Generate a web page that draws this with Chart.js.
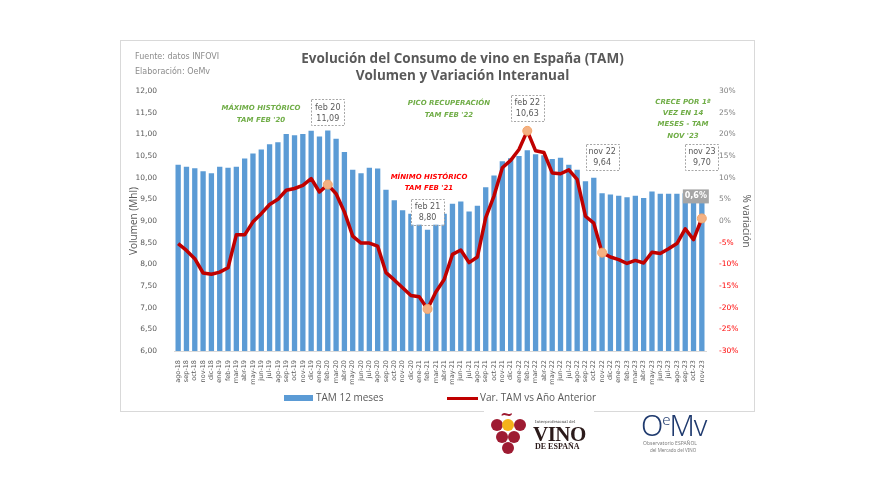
<!DOCTYPE html>
<html>
<head>
<meta charset="utf-8">
<script src="https://cdn.jsdelivr.net/npm/chart.js@4"></script>
<style>
  body { margin: 0; background: #fff; }
  #wrap { position: relative; width: 875px; height: 500px; overflow: hidden; }
  #c { position: absolute; left: 0; top: 0; }
  .abs { position: absolute; white-space: nowrap; }
  #frame { left: 120px; top: 40px; width: 633px; height: 370px; border: 1px solid #d9d9d9; }
  .title { left: 0; width: 925px; text-align: center; font: bold 13.5px "Open Sans", sans-serif; color: #595959; }
  .src { left: 135px; font: 8px "DejaVu Sans", sans-serif; color: #8c8c8c; }
  .leg { font: 10px "Open Sans", sans-serif; color: #595959; }
  .grape { position: absolute; width: 12px; height: 12px; border-radius: 50%; background: #9e1b32; }
</style>
</head>
<body>
<div id="wrap">
  <div id="frame" class="abs"></div>
  <canvas id="c" width="875" height="500"></canvas>
  <div class="abs title" style="top:49px">Evolución del Consumo de vino en España (TAM)</div>
  <div class="abs title" style="top:66px">Volumen y Variación Interanual</div>
  <div class="abs src" style="top:52px">Fuente: datos INFOVI</div>
  <div class="abs src" style="top:67px">Elaboración: OeMv</div>

  <div class="abs" style="left:284px;top:395px;width:29px;height:6px;background:#5b9bd5"></div>
  <div class="abs leg" style="left:316px;top:390px">TAM 12 meses</div>
  <div class="abs" style="left:447px;top:397px;width:31px;height:3px;background:#c00000"></div>
  <div class="abs leg" style="left:480px;top:390px">Var. TAM vs Año Anterior</div>

  <!-- logo Interprofesional del Vino de España -->
  <div class="abs" style="left:484px;top:408px;width:110px;height:64px;background:#fff"></div>
  <div class="abs" style="left:500px;top:405px;font:bold 16px 'DejaVu Serif',serif;color:#9e1b32">~</div>
  <div class="grape" style="left:491px;top:419px"></div>
  <div class="grape" style="left:502px;top:419px;background:#f5b21b"></div>
  <div class="grape" style="left:514px;top:419px"></div>
  <div class="grape" style="left:496px;top:431px"></div>
  <div class="grape" style="left:508px;top:431px"></div>
  <div class="grape" style="left:502px;top:442px"></div>
  <div class="abs" style="left:535px;top:419px;font:4px 'DejaVu Serif',serif;color:#444">Interprofesional del</div>
  <div class="abs" style="left:533px;top:422px;font:bold 21px 'Liberation Serif',serif;color:#2b1a1a;letter-spacing:-0.5px">VINO</div>
  <div class="abs" style="left:535px;top:442px;font:bold 8px 'Liberation Serif',serif;color:#2b1a1a">DE ESPAÑA</div>

  <!-- logo OeMv -->
  <div class="abs" style="left:641px;top:405px;font:300 29px 'Noto Sans',sans-serif;color:#1f3a6e;letter-spacing:-1px">O<sup style="font-size:15px">e</sup>Mv</div>
  <div class="abs" style="left:643px;top:440px;font:5px 'Noto Sans',sans-serif;color:#7f7f7f">Observatorio ESPAÑOL</div>
  <div class="abs" style="left:650px;top:447px;font:4.5px 'Noto Sans',sans-serif;color:#7f7f7f">del Mercado del VINO</div>
</div>
<script>
// meses (TAM)
const meses = [
  'ago-18','sep-18','oct-18','nov-18','dic-18',
  'ene-19','feb-19','mar-19','abr-19','may-19','jun-19','jul-19','ago-19','sep-19','oct-19','nov-19','dic-19',
  'ene-20','feb-20','mar-20','abr-20','may-20','jun-20','jul-20','ago-20','sep-20','oct-20','nov-20','dic-20',
  'ene-21','feb-21','mar-21','abr-21','may-21','jun-21','jul-21','ago-21','sep-21','oct-21','nov-21','dic-21',
  'ene-22','feb-22','mar-22','abr-22','may-22','jun-22','jul-22','ago-22','sep-22','oct-22','nov-22','dic-22',
  'ene-23','feb-23','mar-23','abr-23','may-23','jun-23','jul-23','ago-23','sep-23','oct-23','nov-23'
];

// Volumen TAM 12 meses (Mhl)
const volumen = [
  10.30, 10.25, 10.22, 10.15, 10.10, 10.25, 10.23, 10.25, 10.44, 10.56,
  10.65, 10.77, 10.82, 11.01, 10.98, 11.01, 11.08, 10.95, 11.09, 10.90,
  10.59, 10.18, 10.10, 10.23, 10.21, 9.72, 9.48, 9.25, 9.17, 9.02,
  8.80, 9.05, 9.17, 9.40, 9.45, 9.22, 9.35, 9.78, 10.05, 10.38,
  10.45, 10.50, 10.63, 10.54, 10.52, 10.43, 10.46, 10.30, 10.18, 9.92,
  10.00, 9.64, 9.61, 9.58, 9.55, 9.58, 9.53, 9.68, 9.63, 9.63,
  9.63, 9.64, 9.65, 9.70
];

// Var. TAM vs Año Anterior (%)
const variacion = [
  -5.2, -6.8, -8.7, -12.0, -12.3, -11.8, -10.8, -3.2, -3.2, -0.2,
  1.7, 3.8, 5.0, 7.1, 7.5, 8.2, 9.8, 6.7, 8.4, 6.3,
  2.1, -3.5, -5.1, -5.1, -5.8, -11.9, -13.6, -15.4, -17.2, -17.5,
  -20.3, -16.4, -13.5, -7.7, -6.7, -9.6, -8.3, 0.8, 5.8, 12.3,
  14.0, 16.5, 20.8, 16.2, 15.8, 11.1, 10.9, 11.8, 9.6, 1.1,
  -0.5, -7.3, -8.3, -8.9, -9.8, -9.1, -9.7, -7.2, -7.5, -6.4,
  -5.2, -1.8, -4.3, 0.6
];

// puntos destacados y etiquetas
const destacados = [18, 30, 42, 51, 63];
const etiquetas = [
  { i: 18, txt: 'feb 20', gap: 5 },
  { i: 30, txt: 'feb 21', gap: 5 },
  { i: 42, txt: 'feb 22', gap: 29 },
  { i: 51, txt: 'nov 22', gap: 23 },
  { i: 63, txt: 'nov 23', gap: 21 }
];

const fmt = v => v.toFixed(2).replace('.', ',');

// textos de anotación y cajas de datos
const anotaciones = {
  id: 'anotaciones',
  afterDatasetsDraw(chart) {
    const { ctx, scales } = chart;
    const x = scales.x, y = scales.y, y1 = scales.y1;
    ctx.save();

    // cajas "mes / valor"
    ctx.font = '8px "DejaVu Sans", sans-serif';
    ctx.textAlign = 'center';
    ctx.textBaseline = 'middle';
    etiquetas.forEach(e => {
      const cx = x.getPixelForValue(e.i);
      const bottom = y.getPixelForValue(volumen[e.i]) - e.gap;
      const w = 33, h = 26;
      ctx.fillStyle = '#fff';
      ctx.fillRect(cx - w / 2, bottom - h, w, h);
      ctx.setLineDash([2, 1.5]);
      ctx.strokeStyle = '#a6a6a6';
      ctx.lineWidth = 1;
      ctx.strokeRect(Math.round(cx - w / 2) + 0.5, Math.round(bottom - h) + 0.5, w, h);
      ctx.setLineDash([]);
      ctx.fillStyle = '#595959';
      ctx.fillText(e.txt, cx, bottom - h + 8);
      ctx.fillText(fmt(volumen[e.i]), cx, bottom - h + 19);
    });

    // etiqueta gris del último valor
    const last = variacion.length - 1;
    const lx = x.getPixelForValue(last) - 6;
    const ly = y1.getPixelForValue(variacion[last]) - 22;
    ctx.fillStyle = '#a6a6a6';
    ctx.fillRect(lx - 13, ly - 7, 26, 14);
    ctx.fillStyle = '#fff';
    ctx.font = 'bold 8px "DejaVu Sans", sans-serif';
    ctx.fillText(variacion[last].toFixed(1).replace('.', ',') + '%', lx, ly);

    // textos
    const txt = (lines, cx, top, color, lh) => {
      ctx.fillStyle = color;
      ctx.font = 'italic bold 7px "DejaVu Sans", sans-serif';
      lines.forEach((l, k) => ctx.fillText(l, cx, top + k * lh));
    };
    txt(['MÁXIMO HISTÓRICO', "TAM FEB '20"], 261, 108, '#70ad47', 12);
    txt(['PICO RECUPERACIÓN', "TAM FEB '22"], 449, 103, '#70ad47', 12);
    txt(['MÍNIMO HISTÓRICO', "TAM FEB '21"], 429, 177, '#ff0000', 11);
    txt(['CRECE POR 1ª', 'VEZ EN 14', 'MESES - TAM', "NOV '23"], 683, 102, '#70ad47', 11.3);

    ctx.restore();
  }
};

new Chart(document.getElementById('c'), {
  data: {
    labels: meses,
    datasets: [
      {
        type: 'line',
        label: 'Var. TAM vs Año Anterior',
        data: variacion,
        yAxisID: 'y1',
        borderColor: '#c00000',
        borderWidth: 3.5,
        borderJoinStyle: 'round',
        tension: 0,
        pointRadius: c => destacados.includes(c.dataIndex) ? 4.5 : 0,
        pointBackgroundColor: '#f4b183',
        pointBorderColor: '#f4a66a',
        pointBorderWidth: 1,
        order: 1
      },
      {
        type: 'bar',
        label: 'TAM 12 meses',
        data: volumen,
        yAxisID: 'y',
        backgroundColor: '#5b9bd5',
        barPercentage: 0.64,
        categoryPercentage: 1,
        order: 2
      }
    ]
  },
  options: {
    responsive: false,
    animation: false,
    devicePixelRatio: 1,
    layout: { padding: { left: 120, right: 121, top: 91, bottom: 99 } },
    plugins: { legend: { display: false }, tooltip: { enabled: false } },
    scales: {
      x: {
        offset: true,
        grid: { display: false },
        border: { color: '#d9d9d9' },
        ticks: {
          autoSkip: false, minRotation: 90, maxRotation: 90, padding: 1,
          color: '#595959', font: { family: 'DejaVu Sans', size: 6.5 }
        },
        afterFit: s => { s.height = 50; }
      },
      y: {
        position: 'left',
        min: 6, max: 12,
        grid: { display: false },
        border: { display: false },
        ticks: {
          stepSize: 0.5, padding: 9, color: '#595959',
          font: { family: 'DejaVu Sans', size: 7.5 },
          callback: v => fmt(v)
        },
        title: {
          display: true, text: 'Volumen (Mhl)', color: '#595959',
          padding: { top: 8, bottom: 0 },
          font: { family: 'Open Sans', size: 10 }
        },
        afterFit: s => { s.width = 54; }
      },
      y1: {
        position: 'right',
        min: -30, max: 30,
        grid: { display: false },
        border: { display: false },
        ticks: {
          stepSize: 5, padding: 5,
          color: c => c.tick.value < 0 ? '#ff0000' : '#7f7f7f',
          font: { family: 'DejaVu Sans', size: 7.5 },
          callback: v => v + '%'
        },
        title: {
          display: true, text: '% variación', color: '#595959',
          padding: { top: 2, bottom: 0 },
          font: { family: 'Open Sans', size: 10 }
        },
        afterFit: s => { s.width = 48; }
      }
    }
  },
  plugins: [anotaciones]
});
</script>
</body>
</html>
